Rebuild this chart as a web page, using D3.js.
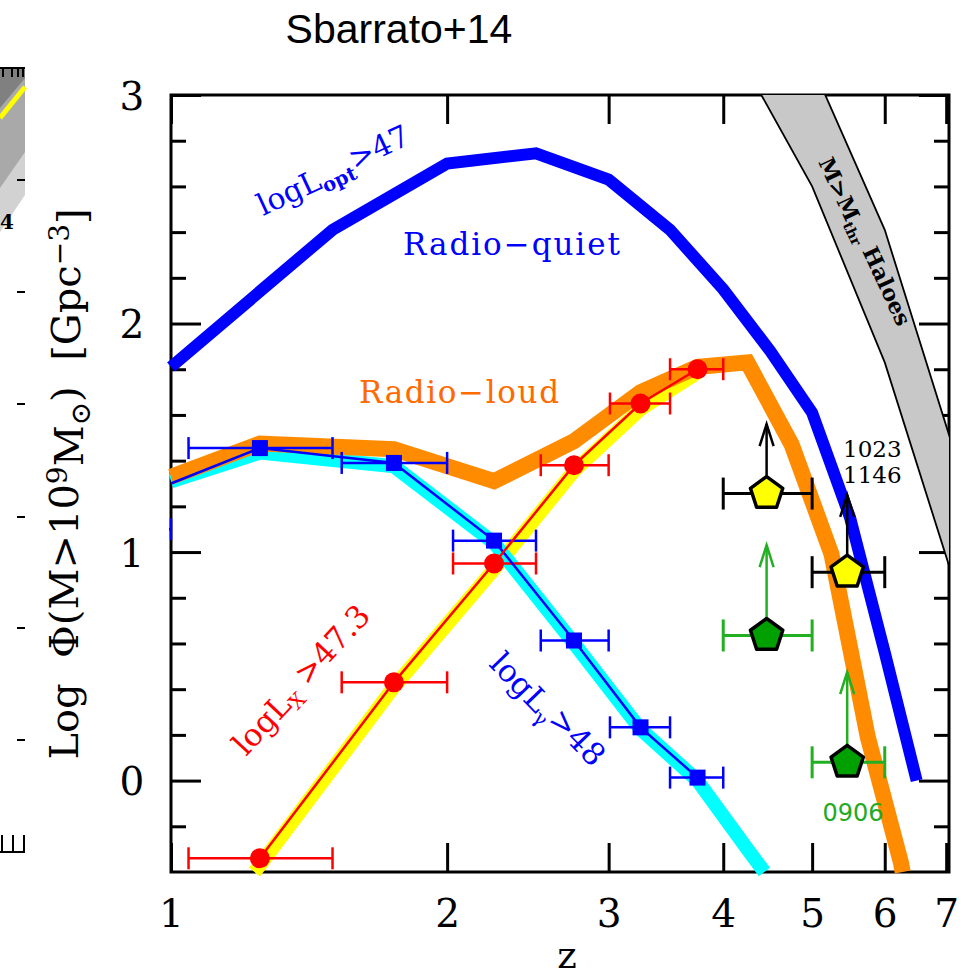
<!DOCTYPE html>
<html>
<head>
<meta charset="utf-8">
<script src="https://cdn.jsdelivr.net/npm/d3@7"></script>
<style>
  body { margin: 0; background: #fff; }
  text { white-space: pre; }
</style>
</head>
<body>
<script>
// ---- data ----
// Radio-quiet, logL_opt > 47
const rqZ   = [1, 1.5, 2, 2.5, 3, 3.5, 4, 4.5, 5, 5.5, 6, 6.5];
const rqPhi = [1.81, 2.41, 2.70, 2.745, 2.63, 2.41, 2.15, 1.88, 1.61, 1.15, 0.56, 0.0];

// Radio-loud total
const rlZ   = [1, 1.25, 1.75, 2.25, 2.75, 3.25, 3.75, 4.25, 4.75, 5.25, 5.75, 6.25, 6.5];
const rlPhi = [1.33, 1.475, 1.45, 1.31, 1.485, 1.70, 1.81, 1.83, 1.47, 0.99, 0.19, -0.36, -0.75];

// gamma-ray model band (cyan) and X-ray model band (yellow)
const cyanZ   = [1, 1.25, 1.75, 2.25, 2.75, 3.25, 3.75, 4.25, 4.75];
const cyanPhi = [1.31, 1.435, 1.375, 1.04, 0.60, 0.225, 0.0, -0.30, -0.56];
const yelZ    = [1.15, 1.25, 1.75, 2.25, 2.75, 3.25, 3.75];
const yelPhi  = [-0.55, -0.37, 0.41, 0.925, 1.355, 1.625, 1.785];

// logL_gamma > 48 (blue squares)
const gamZ   = [0.75, 1.25, 1.75, 2.25, 2.75, 3.25, 3.75];
const gamPhi = [1.10, 1.455, 1.39, 1.05, 0.613, 0.233, 0.013];
const gamLo  = [0.5, 1.045, 1.535, 2.03, 2.53, 3.01, 3.5];
const gamHi  = [1.0, 1.5, 2.0, 2.5, 3.0, 3.5, 4.0];

// logL_X > 47.3 (red circles)
const xrZ   = [1.25, 1.75, 2.25, 2.75, 3.25, 3.75];
const xrPhi = [-0.34, 0.43, 0.95, 1.38, 1.65, 1.80];
const xrLo  = [1.045, 1.535, 2.03, 2.53, 3.01, 3.5];
const xrHi  = [1.5, 2.0, 2.5, 3.0, 3.5, 4.0];

// high-z lower limits (pentagons)
const yellowPZ   = [4.46, 5.46];
const yellowPPhi = [1.256, 0.912];
const yellowPTip = [1.56, 1.25];
const greenPZ    = [4.46, 5.46];
const greenPPhi  = [0.635, 0.08];
const greenPTip  = [1.03, 0.475];
const pLo = [4, 5], pHi = [5, 6];

// M > M_thr haloes band
const haloZ  = [4, 5, 6, 7.5];
const haloLo = [3.30, 2.60, 1.83, 0.60];
const haloHi = [3.88, 3.13, 2.41, 1.17];

const xTicks = [1, 2, 3, 4, 5, 6, 7];
const yMajor = [0, 1, 2, 3];
const yMinor = d3.range(-1, 15).map(k => +(k * 0.2).toFixed(1)).filter(v => !yMajor.includes(v));

// ---- layout ----
const W = 971, H = 978;
const x0 = 171, x1 = 949, y0 = 95, y1 = 872;

const svg = d3.select("body").append("svg")
  .attr("width", W).attr("height", H)
  .style("font-family", "'DejaVu Serif', serif");

const x = d3.scaleLog().domain([1, 7.05]).range([x0, x1]);
const y = d3.scaleLinear().domain([-0.4, 3]).range([y1, y0]);

const zip = (a, b) => a.map((v, i) => [v, b[i]]);

// trim a polyline at z = zmin and logPhi = ymin (interpolating in log z)
function trim(pts) {
  const zmin = x.domain()[0], ymin = y.domain()[0];
  const ok = p => p[0] >= zmin - 1e-9 && p[1] >= ymin;
  const out = [];
  pts.forEach((p, i) => {
    if (i > 0 && ok(p) !== ok(pts[i - 1])) {
      const a = pts[i - 1], b = p;
      const la = Math.log10(a[0]), lb = Math.log10(b[0]);
      let t = 1;
      if ((a[0] < zmin) !== (b[0] < zmin)) t = Math.min(t, (Math.log10(zmin) - la) / (lb - la));
      if ((a[1] < ymin) !== (b[1] < ymin)) t = Math.min(t, (ymin - a[1]) / (b[1] - a[1]));
      out.push([Math.pow(10, la + t * (lb - la)), a[1] + t * (b[1] - a[1])]);
    }
    if (ok(p)) out.push(p);
  });
  return out;
}

const line = d3.line().x(d => x(d[0])).y(d => y(d[1]));

svg.append("defs").append("clipPath").attr("id", "plot")
  .append("rect").attr("x", x0).attr("y", y0).attr("width", x1 - x0).attr("height", y1 - y0);
svg.append("defs").append("clipPath").attr("id", "marks")
  .append("rect").attr("x", x0 - 2).attr("y", y0).attr("width", x1 - x0 + 2).attr("height", y1 - y0 + 4);

// ---- cropped neighbour panel at the far left (decoration) ----
const frag = svg.append("g");
frag.append("polygon").attr("points", "0,68 25,68 25,195 0,232").attr("fill", "#d2d2d2");
frag.append("polygon").attr("points", "0,68 25,68 25,152 0,188").attr("fill", "#a9a9a9");
frag.append("polygon").attr("points", "0,68 25,68 25,78 0,108").attr("fill", "#808080");
frag.append("line").attr("x1", 0).attr("y1", 118).attr("x2", 25).attr("y2", 87)
  .attr("stroke", "#ffff00").attr("stroke-width", 5);
frag.append("line").attr("x1", 0).attr("y1", 68).attr("x2", 25).attr("y2", 68)
  .attr("stroke", "#000").attr("stroke-width", 2);
[3, 12, 18, 23].forEach(px => frag.append("line").attr("x1", px).attr("x2", px)
  .attr("y1", 68).attr("y2", 77).attr("stroke", "#000").attr("stroke-width", 2));
[180, 292, 404, 517, 628, 740].forEach(py => frag.append("line").attr("x1", 17).attr("x2", 25)
  .attr("y1", py).attr("y2", py).attr("stroke", "#000").attr("stroke-width", 2));
frag.append("line").attr("x1", 0).attr("x2", 25).attr("y1", 852).attr("y2", 852)
  .attr("stroke", "#000").attr("stroke-width", 2);
[2, 13, 24].forEach(px => frag.append("line").attr("x1", px).attr("x2", px)
  .attr("y1", 835).attr("y2", 852).attr("stroke", "#000").attr("stroke-width", 2));
frag.append("text").attr("x", 0).attr("y", 229).text("4")
  .style("font-size", "20px").style("font-weight", "bold");

// ---- frame and ticks ----
svg.append("rect").attr("x", x0).attr("y", y0).attr("width", x1 - x0).attr("height", y1 - y0)
  .attr("fill", "none").attr("stroke", "#000").attr("stroke-width", 3);

function styleAxis(g) {
  g.select(".domain").remove();
  g.selectAll("line").attr("stroke", "#000").attr("stroke-width", 3);
}
svg.append("g").attr("transform", `translate(${x0},0)`)
  .call(d3.axisLeft(y).tickValues(yMinor).tickSize(-15).tickFormat("")).call(styleAxis);
svg.append("g").attr("transform", `translate(${x1},0)`)
  .call(d3.axisRight(y).tickValues(yMinor).tickSize(-15).tickFormat("")).call(styleAxis);
svg.append("g").attr("transform", `translate(${x1},0)`)
  .call(d3.axisRight(y).tickValues(yMajor).tickSize(-30).tickFormat("")).call(styleAxis);
const yAx = svg.append("g").attr("transform", `translate(${x0},0)`)
  .call(d3.axisLeft(y).tickValues(yMajor).tickSize(-30).tickFormat(d3.format("d"))).call(styleAxis);
yAx.selectAll("text").attr("x", -39).attr("dy", "0.36em").attr("text-anchor", "middle")
  .style("font-family", "'DejaVu Serif', serif").style("font-size", "39px").attr("fill", "#000");

const xAx = svg.append("g").attr("transform", `translate(0,${y1})`)
  .call(d3.axisBottom(x).tickValues(xTicks).tickSize(-29).tickPadding(27).tickFormat(d3.format("d")))
  .call(styleAxis);
xAx.selectAll("text").style("font-family", "'DejaVu Serif', serif").style("font-size", "39px").attr("fill", "#000");
svg.append("g").attr("transform", `translate(0,${y0})`)
  .call(d3.axisTop(x).tickValues(xTicks).tickSize(-29).tickFormat("")).call(styleAxis);

// ---- haloes band ----
const band = d3.area().x(d => x(d[0])).y0(d => y(d[1])).y1(d => y(d[2]));
const haloData = haloZ.map((z, i) => [z, haloLo[i], haloHi[i]]);
const halo = svg.append("g").attr("clip-path", "url(#plot)");
halo.append("path").attr("d", band(haloData)).attr("fill", "#c8c8c8");
[haloLo, haloHi].forEach(arr => halo.append("path").attr("d", line(zip(haloZ, arr)))
  .attr("fill", "none").attr("stroke", "#000").attr("stroke-width", 1.8));

// ---- model curves ----
const curves = svg.append("g").attr("fill", "none").attr("stroke-linejoin", "miter").attr("stroke-miterlimit", 3);
curves.append("path").attr("d", line(trim(zip(yelZ, yelPhi)))).attr("stroke", "#ffff00").attr("stroke-width", 14);
curves.append("path").attr("d", line(trim(zip(cyanZ, cyanPhi)))).attr("stroke", "#00ffff").attr("stroke-width", 14);
curves.append("path").attr("d", line(trim(zip(rlZ, rlPhi)))).attr("stroke", "#ff8c00").attr("stroke-width", 16);
curves.append("path").attr("d", line(trim(zip(rqZ, rqPhi)))).attr("stroke", "#0000ff").attr("stroke-width", 12);

// ---- data points with x error bars ----
const pts = svg.append("g").attr("clip-path", "url(#marks)");
function errBars(g, zs, phis, lo, hi, color, cap, sw) {
  zs.forEach((z, i) => {
    const yy = y(phis[i]);
    g.append("line").attr("x1", x(lo[i])).attr("x2", x(hi[i])).attr("y1", yy).attr("y2", yy)
      .attr("stroke", color).attr("stroke-width", sw);
    [lo[i], hi[i]].forEach(v => g.append("line").attr("x1", x(v)).attr("x2", x(v))
      .attr("y1", yy - cap).attr("y2", yy + cap).attr("stroke", color).attr("stroke-width", sw));
  });
}
errBars(pts, gamZ, gamPhi, gamLo, gamHi, "#0000ff", 11, 2.5);
errBars(pts, xrZ, xrPhi, xrLo, xrHi, "#ff0000", 11, 2.5);
pts.append("path").attr("d", line(trim(zip(gamZ, gamPhi)))).attr("fill", "none")
  .attr("stroke", "#0000ff").attr("stroke-width", 2.5);
pts.append("path").attr("d", line(zip(xrZ, xrPhi))).attr("fill", "none")
  .attr("stroke", "#ff0000").attr("stroke-width", 2.5);
pts.selectAll("rect.sq").data(zip(gamZ, gamPhi)).join("rect").attr("class", "sq")
  .attr("x", d => x(d[0]) - 8).attr("y", d => y(d[1]) - 8).attr("width", 16).attr("height", 16)
  .attr("fill", "#0000ff");
pts.selectAll("circle.ci").data(zip(xrZ, xrPhi)).join("circle").attr("class", "ci")
  .attr("cx", d => x(d[0])).attr("cy", d => y(d[1])).attr("r", 10).attr("fill", "#ff0000");

// ---- pentagons with upper arrows ----
const pent = d3.range(5).map(i => {
  const a = -Math.PI / 2 + i * 2 * Math.PI / 5;
  return [17 * Math.cos(a), 17 * Math.sin(a)];
});
function limits(zs, phis, tips, fill, color) {
  const g = svg.append("g");
  errBars(g, zs, phis, pLo, pHi, color, 16, 3);
  zs.forEach((z, i) => {
    const cx = x(z), cy = y(phis[i]), ty = y(tips[i]);
    g.append("line").attr("x1", cx).attr("x2", cx).attr("y1", cy).attr("y2", ty)
      .attr("stroke", color).attr("stroke-width", 2.5);
    g.append("path").attr("d", `M${cx - 7},${ty + 22}L${cx},${ty}L${cx + 7},${ty + 22}`)
      .attr("fill", "none").attr("stroke", color).attr("stroke-width", 2.5);
    g.append("path").attr("d", "M" + pent.map(p => [cx + p[0], cy + p[1]]).join("L") + "Z")
      .attr("fill", fill).attr("stroke", "#000").attr("stroke-width", 3.5).attr("stroke-linejoin", "round");
  });
}
limits(yellowPZ, yellowPPhi, yellowPTip, "#ffff00", "#000");
limits(greenPZ, greenPPhi, greenPTip, "#00a000", "#22b022");

// ---- labels ----
svg.append("text").attr("x", 399).attr("y", 43).attr("text-anchor", "middle")
  .style("font-family", "'Liberation Sans', Arial, sans-serif").style("font-size", "41px")
  .text("Sbarrato+14");

const yl = svg.append("text").attr("transform", "translate(78,484) rotate(-90)")
  .attr("text-anchor", "middle").style("font-size", "40px");
yl.append("tspan").text("Log  Φ(M>10");
yl.append("tspan").attr("dy", "-0.4em").style("font-size", "0.7em").text("9");
yl.append("tspan").attr("dy", "0.4em").text("M");
yl.append("tspan").attr("dy", "0.25em").style("font-size", "0.7em").text("⊙");
yl.append("tspan").attr("dy", "-0.25em").text(")  [Gpc");
yl.append("tspan").attr("dy", "-0.4em").style("font-size", "0.7em").text("−3");
yl.append("tspan").attr("dy", "0.4em").text("]");

svg.append("text").attr("x", 567).attr("y", 968).attr("text-anchor", "middle")
  .style("font-size", "37px").text("z");

svg.append("text").attr("x", 403).attr("y", 255).attr("textLength", 217).attr("lengthAdjust", "spacing")
  .style("font-size", "31px").attr("fill", "#0000ff").text("Radio−quiet");
svg.append("text").attr("x", 359).attr("y", 403).attr("textLength", 200).attr("lengthAdjust", "spacing")
  .style("font-size", "31px").attr("fill", "#ff6a00").text("Radio−loud");

function subLabel(tx, ty, ang, color, size, parts) {
  const t = svg.append("text").attr("transform", `translate(${tx},${ty}) rotate(${ang})`)
    .attr("fill", color).style("font-size", size + "px");
  parts.forEach(p => {
    const s = t.append("tspan").text(p[0]);
    if (p[1] === "sub") s.attr("dy", "0.3em").style("font-size", "0.65em");
    if (p[1] === "back") s.attr("dy", "-0.3em");
  });
  return t;
}
subLabel(263, 216, -25, "#0000ff", 30, [["logL"], ["opt", "sub"], [">47", "back"]])
  .select("tspan:nth-child(2)").style("font-weight", "bold");
subLabel(246, 757, -47, "#ff0000", 31, [["logL"], ["X", "sub"], [" >47.3", "back"]]);
subLabel(488, 665, 46, "#0000ff", 31, [["logL"], ["γ", "sub"], [">48", "back"]]);
subLabel(818, 162, 65, "#000", 22, [["M>M"], ["thr", "sub"], [" Haloes", "back"]])
  .style("font-weight", "bold");

svg.append("text").attr("x", 843).attr("y", 457).style("font-size", "23px").text("1023");
svg.append("text").attr("x", 843).attr("y", 483).style("font-size", "23px").text("1146");
svg.append("text").attr("x", 853).attr("y", 821).attr("text-anchor", "middle")
  .style("font-family", "'DejaVu Sans', sans-serif").style("font-size", "24px")
  .attr("fill", "#22aa22").text("0906");
</script>
</body>
</html>
